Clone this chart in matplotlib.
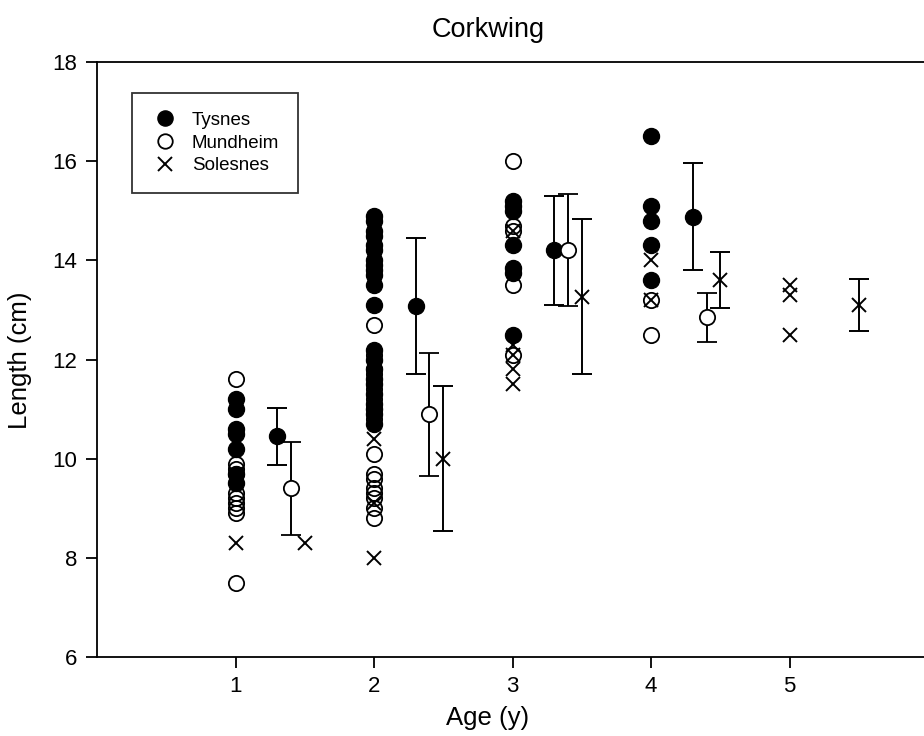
import numpy as np
import matplotlib
matplotlib.use("Agg")
import matplotlib.pyplot as plt

plt.rcParams['font.family'] = ['Liberation Sans', 'DejaVu Sans']

# raw lengths (cm) by age, per site
tysnes_raw = {
    1: [11.2, 11.0, 10.6, 10.5, 10.2, 9.7, 9.5],
    2: [14.9, 14.8, 14.6, 14.5, 14.3, 14.2, 14.0, 13.9, 13.8, 13.7, 13.5, 13.1,
        12.2, 12.0, 11.8, 11.6, 11.5, 11.3, 11.1, 11.0, 10.9, 10.7],
    3: [15.2, 15.1, 15.0, 14.3, 13.85, 13.75, 12.5],
    4: [16.5, 15.1, 14.8, 14.3, 13.6],
}
mundheim_raw = {
    1: [11.6, 9.9, 9.8, 9.7, 9.3, 9.2, 9.1, 9.0, 8.9, 7.5],
    2: [12.7, 12.1, 11.8, 11.7, 11.4, 11.2, 11.0, 10.8, 10.1, 9.7, 9.6, 9.4,
        9.3, 9.2, 9.0, 8.8],
    3: [16.0, 14.7, 14.6, 13.5, 12.1],
    4: [13.2, 12.5],
}
solesnes_raw = {
    1: [9.7, 8.3],
    2: [11.4, 10.4, 9.1, 8.0],
    3: [14.6, 12.3, 12.1, 11.8, 11.5],
    4: [14.0, 13.2],
    5: [13.5, 13.3, 12.5],
}

# means and error bars (offset beside each age)
tysnes_age = [1, 2, 3, 4]
tysnes_mean = [10.45, 13.08, 14.2, 14.88]
tysnes_err = [0.57, 1.38, 1.1, 1.08]

mundheim_age = [1, 2, 3, 4]
mundheim_mean = [9.4, 10.9, 14.2, 12.85]
mundheim_err = [0.93, 1.24, 1.13, 0.49]

solesnes_age = [1, 2, 3, 4, 5]
solesnes_mean = [8.3, 10.0, 13.27, 13.6, 13.1]
solesnes_err = [0.0, 1.46, 1.56, 0.56, 0.53]

fig = plt.figure(figsize=(9.24, 7.36), dpi=100)
ax = fig.add_axes([97 / 924, 79 / 736, 827 / 924, 595 / 736])

lw = 1.4
ms = 11.5

def scatter_raw(raw, **kw):
    xs, ys = [], []
    for age, vals in raw.items():
        xs += [age] * len(vals)
        ys += vals
    return ax.plot(xs, ys, linestyle='none', **kw)[0]

h1 = scatter_raw(tysnes_raw, marker='o', ms=ms, mfc='black', mec='black')
h2 = scatter_raw(mundheim_raw, marker='o', ms=ms - 0.5, mfc='none', mec='black', mew=1.3)
h3 = scatter_raw(solesnes_raw, marker='x', ms=ms - 1, color='black', mew=1.4)

ax.errorbar(np.array(tysnes_age) + 0.3, tysnes_mean, yerr=tysnes_err, fmt='o',
            ms=ms, mfc='black', mec='black', ecolor='black', elinewidth=lw,
            capsize=7, capthick=lw)
ax.errorbar(np.array(mundheim_age) + 0.4, mundheim_mean, yerr=mundheim_err, fmt='o',
            ms=ms - 0.5, mfc='white', mec='black', mew=1.3, ecolor='black',
            elinewidth=lw, capsize=7, capthick=lw)
sx = np.array(solesnes_age) + 0.5
serr = np.array(solesnes_err)
has = serr > 0
ax.errorbar(sx[has], np.array(solesnes_mean)[has], yerr=serr[has], fmt='none',
            ecolor='black', elinewidth=lw, capsize=7, capthick=lw)
ax.plot(sx, solesnes_mean, linestyle='none', marker='x', ms=ms - 1,
        color='black', mew=1.4)

ax.set_xlim(0, 5.97)
ax.set_ylim(6, 18)
ax.set_xticks([1, 2, 3, 4, 5])
ax.set_yticks([6, 8, 10, 12, 14, 16, 18])
ax.tick_params(direction='out', length=8, width=1.3, labelsize=16, pad=6)
ax.spines['right'].set_visible(False)
for s in ['left', 'top', 'bottom']:
    ax.spines[s].set_linewidth(1.3)

fig.text(488 / 924, 1 - 30 / 736, 'Corkwing', ha='center', va='center', fontsize=19.5)
fig.text(488 / 924, 1 - 718 / 736, 'Age (y)', ha='center', va='center', fontsize=18.5)
fig.text(20 / 924, 1 - 360 / 736, 'Length (cm)', ha='center', va='center',
         rotation=90, fontsize=18.5)

leg = ax.legend([h1, h2, h3], ['Tysnes', 'Mundheim', 'Solesnes'],
                loc='upper left', bbox_to_anchor=(0.042, 0.948), fontsize=13.5,
                frameon=True, fancybox=False, borderpad=1.0, handletextpad=0.7,
                labelspacing=0.3, handlelength=1.5, markerscale=0.95,
                borderaxespad=0)
leg.get_frame().set_edgecolor('black')
leg.get_frame().set_linewidth(1.3)

fig.savefig('out.png', dpi=100)
